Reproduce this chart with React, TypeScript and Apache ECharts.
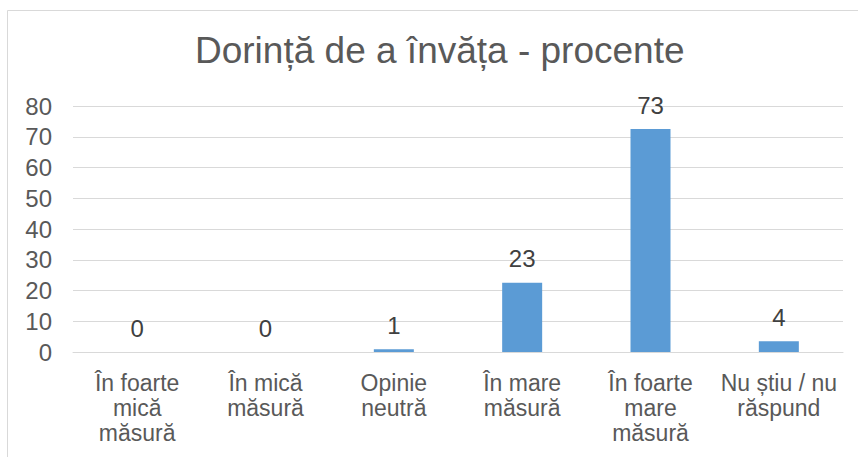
import React, { useEffect, useRef } from "react";
import * as echarts from "echarts";

const titleText = "Dorință de a învăța - procente";
const categories = [
  "În foarte\nmică\nmăsură",
  "În mică\nmăsură",
  "Opinie\nneutră",
  "În mare\nmăsură",
  "În foarte\nmare\nmăsură",
  "Nu știu / nu\nrăspund",
];
const values = [0, 0, 0.9, 22.5, 72.5, 3.5];
const yMin = 0;
const yMax = 80;
const yStep = 10;

const FONT = "Arial, 'Liberation Sans', sans-serif";

export default function App() {
  const ref = useRef<HTMLDivElement>(null);
  useEffect(() => {
    if (!ref.current) return;
    const chart = echarts.init(ref.current, undefined, { renderer: "svg" });
    chart.setOption({
      animation: false,
      backgroundColor: "#ffffff",
      textStyle: { fontFamily: FONT },
      title: {
        text: titleText,
        left: 190,
        top: 27,
        textStyle: { fontFamily: FONT, fontSize: 37, fontWeight: "normal", color: "#595959" },
      },
      graphic: [
        {
          type: "rect",
          shape: { x: 7.5, y: 10.5, width: 900, height: 500 },
          style: { fill: "none", stroke: "#d9d9d9", lineWidth: 1 },
          silent: true,
        },
      ],
      grid: { left: 73, right: 15, top: 106, bottom: 105, containLabel: false },
      xAxis: {
        type: "category",
        data: categories,
        axisLine: { lineStyle: { color: "#d9d9d9", width: 1 } },
        axisTick: { show: false },
        axisLabel: {
          color: "#595959",
          fontSize: 23,
          fontFamily: FONT,
          lineHeight: 25,
          margin: 18,
          interval: 0,
        },
      },
      yAxis: {
        type: "value",
        min: yMin,
        max: yMax,
        interval: yStep,
        axisLine: { show: false },
        axisTick: { show: false },
        splitLine: { lineStyle: { color: "#d9d9d9", width: 1 } },
        axisLabel: { color: "#595959", fontSize: 24, fontFamily: FONT, margin: 21 },
      },
      series: [
        {
          type: "bar",
          data: values,
          barWidth: 40,
          itemStyle: { color: "#5B9BD5" },
          label: {
            show: true,
            position: "top",
            distance: 12,
            color: "#404040",
            fontSize: 24,
            fontFamily: FONT,
            formatter: (p: any) => String(Math.round(p.value)),
          },
        },
      ],
    });
    return () => chart.dispose();
  }, []);
  return (
    <div
      ref={ref}
      style={{ position: "fixed", left: 0, top: 0, width: 858, height: 457 }}
    />
  );
}
